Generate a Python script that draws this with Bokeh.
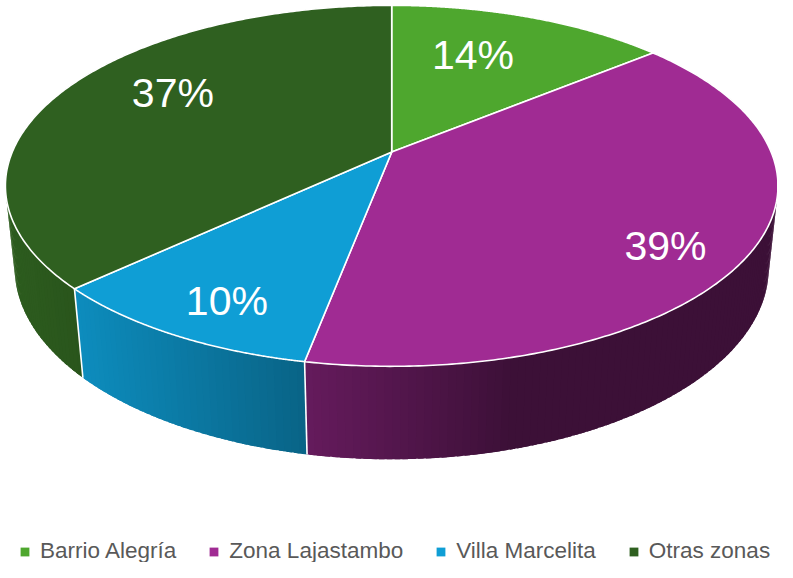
import numpy as np
from bokeh.plotting import figure
from bokeh.models import Range1d, Legend, LegendItem, ColumnDataSource
from bokeh.core.properties import value
from bokeh.embed import file_html
from bokeh.resources import INLINE

# ---------------- data ----------------
categories = ["Barrio Alegría", "Zona Lajastambo", "Villa Marcelita", "Otras zonas"]
shares = [14, 39, 10, 37]
labels = ["14%", "39%", "10%", "37%"]
colors = ["#4EA72E", "#A02B93", "#0F9ED5", "#2F6020"]

# ---------------- layout (3D projection of the pie) ----------------
W, HGT = 777, 562
SC = 0.978                      # overall scale so the drawing fits the page
CX, CY = 400.0 * SC, 155.0 * SC   # pixel of pie centre
S = 388.0 * SC                  # horizontal radius scale
SIN_PHI, COS_PHI = 0.459, 0.888  # tilt
K = 0.2106                      # perspective strength
H = 0.246                       # thickness (in radius units)
LABEL_R = [0.66, 0.82, 0.83, 0.71]
LABEL_DTHETA = [-4.0, 6.4, -2.0, 6.6]


def project(theta_deg, r, z):
    t = np.radians(theta_deg)
    x = r * np.sin(t)
    y = r * np.cos(t)
    w = 1 + K * (y * COS_PHI - z * SIN_PHI)
    sx = CX + S * x / w
    sy = CY - S * (y * SIN_PHI + z * COS_PHI) / w
    return sx, -sy


def hex_to_rgb(h):
    h = h.lstrip("#")
    return np.array([int(h[i:i + 2], 16) for i in (0, 2, 4)], dtype=float)


def shade(hexcol, theta):
    f = 0.38 + 0.58 * max(0.0, np.cos(np.radians(theta - 255.0)))
    rgb = np.clip(hex_to_rgb(hexcol) * f, 0, 255).astype(int)
    return "#%02x%02x%02x" % tuple(rgb)


total = float(sum(shares))
bounds = np.concatenate([[0.0], np.cumsum(shares) / total * 360.0])

vis_half = np.degrees(np.arccos(K / COS_PHI))
vis_lo, vis_hi = 180.0 - vis_half, 180.0 + vis_half

p = figure(width=W, height=HGT, output_backend="svg", toolbar_location=None,
           x_range=Range1d(0, W), y_range=Range1d(-HGT, 0),
           min_border=0)
p.axis.visible = False
p.grid.visible = False
p.outline_line_color = None
p.background_fill_color = "white"
p.border_fill_color = "white"

# ---- side walls (thin overlapping strips for the shading) ----
wx, wy, wc = [], [], []
STEP = 1.0
for i in range(len(shares)):
    a0, a1 = max(bounds[i], vis_lo), min(bounds[i + 1], vis_hi)
    if a1 <= a0:
        continue
    n = max(2, int(np.ceil((a1 - a0) / STEP)))
    th = np.linspace(a0, a1, n + 1)
    for j in range(n):
        t_end = min(th[j + 1] + 0.7 * STEP, a1)
        tt = np.linspace(th[j], t_end, 3)
        tx, ty = project(tt, 1.0, 0.0)
        bx, by = project(tt[::-1], 1.0, -H)
        wx.append(list(tx) + list(bx))
        wy.append(list(ty) + list(by))
        wc.append(shade(colors[i], 0.5 * (th[j] + th[j + 1])))
p.patches(xs="xs", ys="ys", source=ColumnDataSource(dict(xs=wx, ys=wy, c=wc)),
          fill_color="c", line_color=None)

# white edges between slices on the walls
for b in bounds[1:-1]:
    if vis_lo < b < vis_hi:
        tx, ty = project(np.array([b, b]), 1.0, np.array([0.0, -H]))
        p.line(x=list(tx), y=list(ty), line_color="white", line_width=1.6)

# ---- top faces ----
txs, tys = [], []
cx0, cy0 = project(0.0, 0.0, 0.0)
for i in range(len(shares)):
    th = np.linspace(bounds[i], bounds[i + 1], 240)
    ax, ay = project(th, 1.0, 0.0)
    txs.append([cx0] + list(ax))
    tys.append([cy0] + list(ay))
top_src = ColumnDataSource(dict(xs=txs, ys=tys, c=colors))
fill_only = p.patches(xs="xs", ys="ys", source=top_src, fill_color="c", line_color=None)
p.patches(xs="xs", ys="ys", source=top_src,
          fill_color="c", line_color="white", line_width=1.6, line_join="round")

# ---- data labels ----
lx, ly = [], []
for i in range(len(shares)):
    mid = 0.5 * (bounds[i] + bounds[i + 1]) + LABEL_DTHETA[i]
    x, y = project(mid, LABEL_R[i], 0.0)
    lx.append(float(x))
    ly.append(float(y))
p.text(x=lx, y=ly, text=labels, text_color="white", text_font=value("Liberation Sans"),
       text_font_size="41px", text_align="center", text_baseline="middle", y_offset=-1)

# ---- legend ----
items = [LegendItem(label=cat, renderers=[fill_only], index=i) for i, cat in enumerate(categories)]
legend = Legend(items=items, orientation="horizontal", location=(19, -2),
                glyph_width=11, glyph_height=11, label_standoff=10, spacing=32,
                padding=0, margin=0, border_line_alpha=0, background_fill_alpha=0,
                label_text_font="Liberation Sans", label_text_font_size="22.5px",
                label_text_color="#595959")
p.add_layout(legend, "center")

open("out.html", "w").write(file_html(p, INLINE))
